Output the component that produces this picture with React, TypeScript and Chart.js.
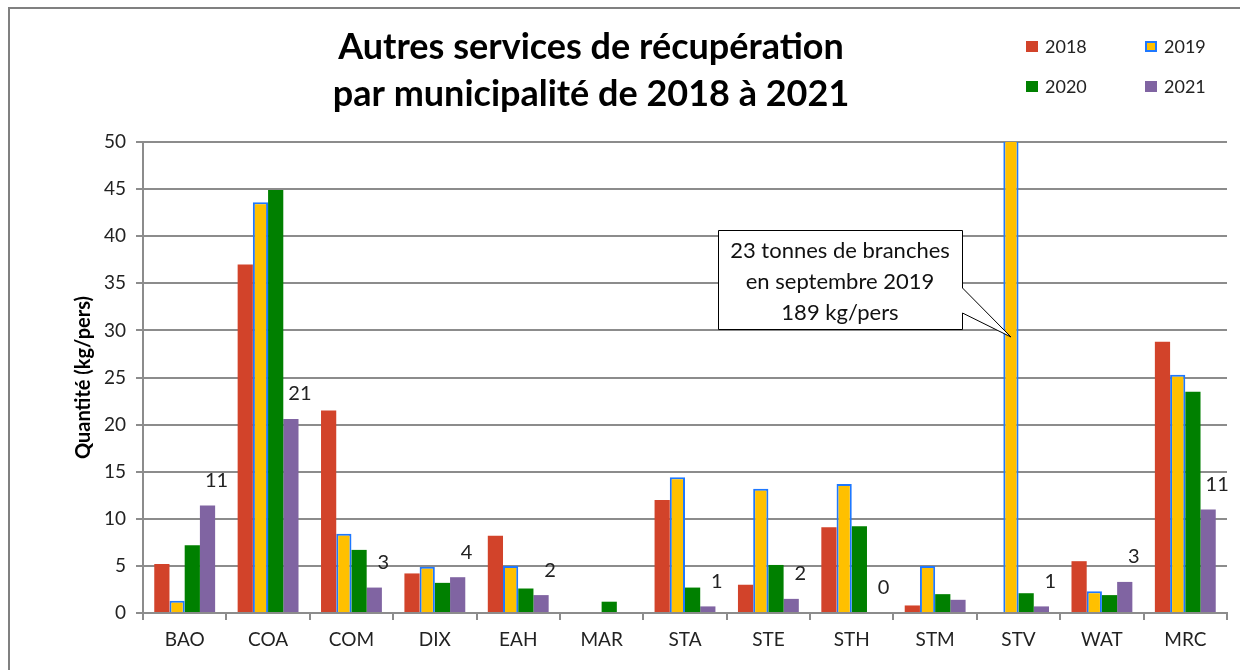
import React, { useEffect, useRef } from "react";
import { Chart, registerables } from "chart.js";
Chart.register(...registerables);

const categories = ["BAO", "COA", "COM", "DIX", "EAH", "MAR", "STA", "STE", "STH", "STM", "STV", "WAT", "MRC"];
const values2018 = [5.2, 37.0, 21.5, 4.2, 8.2, 0, 12.0, 3.0, 9.1, 0.8, 0, 5.5, 28.8];
const values2019 = [1.3, 43.6, 8.4, 4.9, 5.0, 0, 14.4, 13.2, 13.7, 5.0, 189, 2.3, 25.3];
const values2020 = [7.2, 44.9, 6.7, 3.2, 2.6, 1.2, 2.7, 5.1, 9.2, 2.0, 2.1, 1.9, 23.5];
const values2021 = [11.4, 20.6, 2.7, 3.8, 1.9, 0, 0.7, 1.5, 0, 1.4, 0.7, 3.3, 11.0];
const labels2021 = ["11", "21", "3", "4", "2", "", "1", "2", "0", "", "1", "3", "11"];
const seriesNames = ["2018", "2019", "2020", "2021"];
const titleLines = ["Autres services de récupération", "par municipalité de 2018 à 2021"];
const calloutLines = ["23 tonnes de branches", "en septembre 2019", "189 kg/pers"];
const yTitle = "Quantité (kg/pers)";

const RED = "#D2432A";
const YELLOW = "#FFC000";
const BLUE = "#1E78FF";
const GREEN = "#008000";
const PURPLE = "#8064A2";
const GRID = "#8C8C8C";
const FONT = "Lato, 'Open Sans', sans-serif";

const decorPlugin = {
  id: "decor",
  beforeDraw(chart: any) {
    const ctx = chart.ctx;
    ctx.save();
    ctx.fillStyle = "#ffffff";
    ctx.fillRect(0, 0, chart.width, chart.height);
    ctx.strokeStyle = "#808080";
    ctx.lineWidth = 2;
    ctx.strokeRect(9, 8, chart.width + 20, chart.height + 20);
    ctx.restore();
  },
  afterDraw(chart: any) {
    const ctx = chart.ctx;
    ctx.save();
    // title
    ctx.fillStyle = "#000";
    ctx.font = `bold 36px ${FONT}`;
    ctx.textAlign = "center";
    ctx.textBaseline = "middle";
    ctx.fillText(titleLines[0], 591, 47);
    ctx.fillText(titleLines[1], 591, 94);

    // legend (2 x 2)
    const ds = chart.data.datasets;
    const pos = [
      [1026, 46],
      [1145, 46],
      [1026, 86],
      [1145, 86],
    ];
    ctx.font = `18px ${FONT}`;
    ctx.textAlign = "left";
    ds.forEach((d: any, i: number) => {
      const [x, y] = pos[i];
      ctx.fillStyle = d.backgroundColor;
      ctx.fillRect(x, y - 5, 12, 11);
      if (d.borderWidth) {
        ctx.strokeStyle = d.borderColor;
        ctx.lineWidth = 2;
        ctx.strokeRect(x + 1, y - 4, 10, 9);
      }
      ctx.fillStyle = "#222";
      ctx.fillText(d.label, x + 19, y + 1);
    });

    // 2021 value labels
    const meta = chart.getDatasetMeta(3);
    ctx.font = `20px ${FONT}`;
    ctx.fillStyle = "#222";
    ctx.textAlign = "center";
    meta.data.forEach((el: any, i: number) => {
      const t = labels2021[i];
      if (!t) return;
      ctx.fillText(t, el.x + 9, el.y - 25);
    });

    // callout
    const xs = chart.scales.x;
    const ys = chart.scales.y;
    const stvMeta = chart.getDatasetMeta(1).data[10];
    const tipX = stvMeta.x;
    const tipY = ys.getPixelForValue(29.3);
    const bx = Math.round(xs.getPixelForValue(7)) - 50;
    const by = Math.round(ys.getPixelForValue(40.7));
    const bw = 244;
    const bh = 99;
    ctx.fillStyle = "#fff";
    ctx.strokeStyle = "#000";
    ctx.lineWidth = 1;
    ctx.beginPath();
    ctx.moveTo(bx + 0.5, by + 0.5);
    ctx.lineTo(bx + bw + 0.5, by + 0.5);
    ctx.lineTo(bx + bw + 0.5, by + 58);
    ctx.lineTo(tipX, tipY);
    ctx.lineTo(bx + bw + 0.5, by + 83);
    ctx.lineTo(bx + bw + 0.5, by + bh + 0.5);
    ctx.lineTo(bx + 0.5, by + bh + 0.5);
    ctx.closePath();
    ctx.fill();
    ctx.stroke();
    ctx.fillStyle = "#111";
    ctx.font = `22px ${FONT}`;
    ctx.textAlign = "center";
    ctx.textBaseline = "middle";
    calloutLines.forEach((l, i) => ctx.fillText(l, bx + bw / 2, by + 21 + i * 31));
    ctx.restore();
  },
};

export default function App() {
  const ref = useRef<HTMLCanvasElement>(null);
  useEffect(() => {
    if (!ref.current) return;
    const chart = new Chart(ref.current, {
      type: "bar",
      data: {
        labels: categories,
        datasets: [
          { label: seriesNames[0], data: values2018, backgroundColor: RED, borderWidth: 0 },
          { label: seriesNames[1], data: values2019, backgroundColor: YELLOW, borderColor: BLUE, borderWidth: 2 },
          { label: seriesNames[2], data: values2020, backgroundColor: GREEN, borderWidth: 0 },
          { label: seriesNames[3], data: values2021, backgroundColor: PURPLE, borderWidth: 0 },
        ],
      },
      options: {
        animation: false,
        responsive: true,
        maintainAspectRatio: false,
        datasets: { bar: { categoryPercentage: 0.73, barPercentage: 1 } },
        layout: { padding: { left: 62, top: 142, right: 13, bottom: 0 } },
        plugins: {
          legend: { display: false },
          title: { display: false },
          tooltip: { enabled: false },
        },
        scales: {
          x: {
            grid: { drawOnChartArea: false, drawTicks: true, tickLength: 7, offset: true, color: GRID, lineWidth: 2 },
            border: { display: true, color: GRID, width: 2 },
            ticks: { color: "#222", font: { family: FONT, size: 19 }, padding: 8 },
            afterFit(scale: any) {
              scale.height = 57;
            },
          },
          y: {
            min: 0,
            max: 50,
            ticks: { stepSize: 5, color: "#222", font: { family: FONT, size: 19 }, padding: 10 },
            grid: { color: GRID, lineWidth: 2, tickLength: 7 },
            border: { display: true, color: GRID, width: 2 },
            title: {
              display: true,
              text: yTitle,
              color: "#000",
              font: { family: FONT, size: 20, weight: "bold" },
              padding: { top: 10, bottom: 0 },
            },
            afterFit(scale: any) {
              scale.width = 81;
            },
          },
        },
      },
      plugins: [decorPlugin],
    });
    return () => chart.destroy();
  }, []);
  return (
    <div style={{ position: "fixed", left: 0, top: 0, width: 1240, height: 670, background: "#fff" }}>
      <canvas ref={ref} />
    </div>
  );
}
